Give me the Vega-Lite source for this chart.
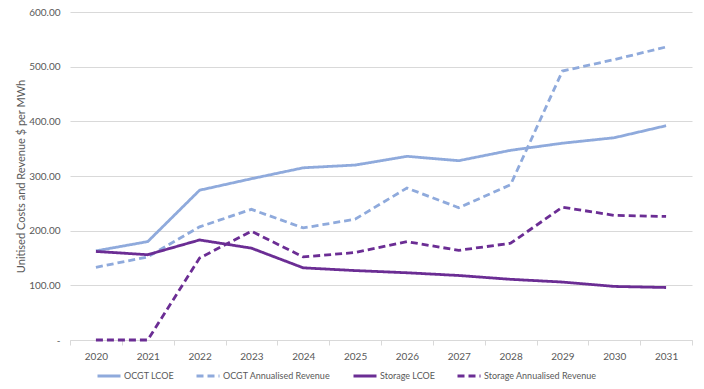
{
  "$schema": "https://vega.github.io/schema/vega-lite/v6.json",
  "width": 622,
  "height": 328,
  "autosize": "none",
  "padding": {"left": 70, "top": 12, "right": 12, "bottom": 49},
  "background": "white",
  "config": {
    "view": {"stroke": null},
    "font": "Lato",
    "axis": {"labelFont": "Lato", "titleFont": "Lato", "labelColor": "#595959", "titleColor": "#595959"}
  },
  "data": {
    "values": [
      {"year": "2020", "series": "OCGT LCOE", "value": 163},
      {"year": "2021", "series": "OCGT LCOE", "value": 180},
      {"year": "2022", "series": "OCGT LCOE", "value": 274},
      {"year": "2023", "series": "OCGT LCOE", "value": 295},
      {"year": "2024", "series": "OCGT LCOE", "value": 315},
      {"year": "2025", "series": "OCGT LCOE", "value": 320},
      {"year": "2026", "series": "OCGT LCOE", "value": 336},
      {"year": "2027", "series": "OCGT LCOE", "value": 328},
      {"year": "2028", "series": "OCGT LCOE", "value": 347},
      {"year": "2029", "series": "OCGT LCOE", "value": 360},
      {"year": "2030", "series": "OCGT LCOE", "value": 370},
      {"year": "2031", "series": "OCGT LCOE", "value": 392},
      {"year": "2020", "series": "OCGT Annualised Revenue", "value": 133},
      {"year": "2021", "series": "OCGT Annualised Revenue", "value": 152},
      {"year": "2022", "series": "OCGT Annualised Revenue", "value": 207},
      {"year": "2023", "series": "OCGT Annualised Revenue", "value": 239},
      {"year": "2024", "series": "OCGT Annualised Revenue", "value": 205},
      {"year": "2025", "series": "OCGT Annualised Revenue", "value": 221},
      {"year": "2026", "series": "OCGT Annualised Revenue", "value": 278},
      {"year": "2027", "series": "OCGT Annualised Revenue", "value": 242},
      {"year": "2028", "series": "OCGT Annualised Revenue", "value": 284},
      {"year": "2029", "series": "OCGT Annualised Revenue", "value": 492},
      {"year": "2030", "series": "OCGT Annualised Revenue", "value": 513},
      {"year": "2031", "series": "OCGT Annualised Revenue", "value": 536},
      {"year": "2020", "series": "Storage LCOE", "value": 162},
      {"year": "2021", "series": "Storage LCOE", "value": 156},
      {"year": "2022", "series": "Storage LCOE", "value": 183},
      {"year": "2023", "series": "Storage LCOE", "value": 168},
      {"year": "2024", "series": "Storage LCOE", "value": 132},
      {"year": "2025", "series": "Storage LCOE", "value": 127},
      {"year": "2026", "series": "Storage LCOE", "value": 123},
      {"year": "2027", "series": "Storage LCOE", "value": 118},
      {"year": "2028", "series": "Storage LCOE", "value": 111},
      {"year": "2029", "series": "Storage LCOE", "value": 106},
      {"year": "2030", "series": "Storage LCOE", "value": 98},
      {"year": "2031", "series": "Storage LCOE", "value": 96},
      {"year": "2020", "series": "Storage Annualised Revenue", "value": 0},
      {"year": "2021", "series": "Storage Annualised Revenue", "value": 0},
      {"year": "2022", "series": "Storage Annualised Revenue", "value": 150},
      {"year": "2023", "series": "Storage Annualised Revenue", "value": 199},
      {"year": "2024", "series": "Storage Annualised Revenue", "value": 152},
      {"year": "2025", "series": "Storage Annualised Revenue", "value": 160},
      {"year": "2026", "series": "Storage Annualised Revenue", "value": 180},
      {"year": "2027", "series": "Storage Annualised Revenue", "value": 164},
      {"year": "2028", "series": "Storage Annualised Revenue", "value": 177},
      {"year": "2029", "series": "Storage Annualised Revenue", "value": 243},
      {"year": "2030", "series": "Storage Annualised Revenue", "value": 228},
      {"year": "2031", "series": "Storage Annualised Revenue", "value": 226}
    ]
  },
  "mark": {"type": "line", "strokeWidth": 2.8},
  "encoding": {
    "x": {
      "field": "year",
      "type": "ordinal",
      "bandPosition": 0.5,
      "scale": {"type": "band", "paddingInner": 0, "paddingOuter": 0},
      "axis": {
        "title": null,
        "labelAngle": 0,
        "labelFontSize": 10,
        "labelPadding": 6,
        "tickBand": "extent",
        "domainColor": "#D9D9D9",
        "tickColor": "#D9D9D9",
        "tickSize": 5,
        "grid": false
      }
    },
    "y": {
      "field": "value",
      "type": "quantitative",
      "scale": {"domain": [0, 600], "nice": false},
      "axis": {
        "title": "Unitised Costs and Revenue $ per MWh",
        "titleFontSize": 11,
        "titleFontWeight": "normal",
        "titlePadding": 2,
        "values": [0, 100, 200, 300, 400, 500, 600],
        "labelExpr": "datum.value == 0 ? '-' : format(datum.value, '.2f')",
        "labelFontSize": 10,
        "labelPadding": 10,
        "domain": false,
        "ticks": false,
        "gridColor": "#D9D9D9",
        "gridWidth": 1
      }
    },
    "color": {
      "field": "series",
      "type": "nominal",
      "scale": {
        "domain": ["OCGT LCOE", "OCGT Annualised Revenue", "Storage LCOE", "Storage Annualised Revenue"],
        "range": ["#8FAADC", "#8FAADC", "#6B2D94", "#6B2D94"]
      },
      "legend": {
        "title": null,
        "orient": "none",
        "legendX": 26,
        "legendY": 351,
        "direction": "horizontal",
        "symbolType": "stroke",
        "symbolSize": 529,
        "symbolStrokeWidth": 3,
        "labelFont": "Lato",
        "labelFontSize": 9,
        "labelColor": "#595959",
        "columnPadding": 16,
        "labelOffset": 2
      }
    },
    "strokeDash": {
      "field": "series",
      "type": "nominal",
      "scale": {
        "domain": ["OCGT LCOE", "OCGT Annualised Revenue", "Storage LCOE", "Storage Annualised Revenue"],
        "range": [[1, 0], [7, 4], [1, 0], [7, 4]]
      },
      "legend": {
        "title": null,
        "orient": "none",
        "legendX": 26,
        "legendY": 351,
        "direction": "horizontal",
        "symbolType": "stroke",
        "symbolSize": 529,
        "symbolStrokeWidth": 3,
        "labelFont": "Lato",
        "labelFontSize": 9,
        "labelColor": "#595959",
        "columnPadding": 16,
        "labelOffset": 2
      }
    }
  }
}
